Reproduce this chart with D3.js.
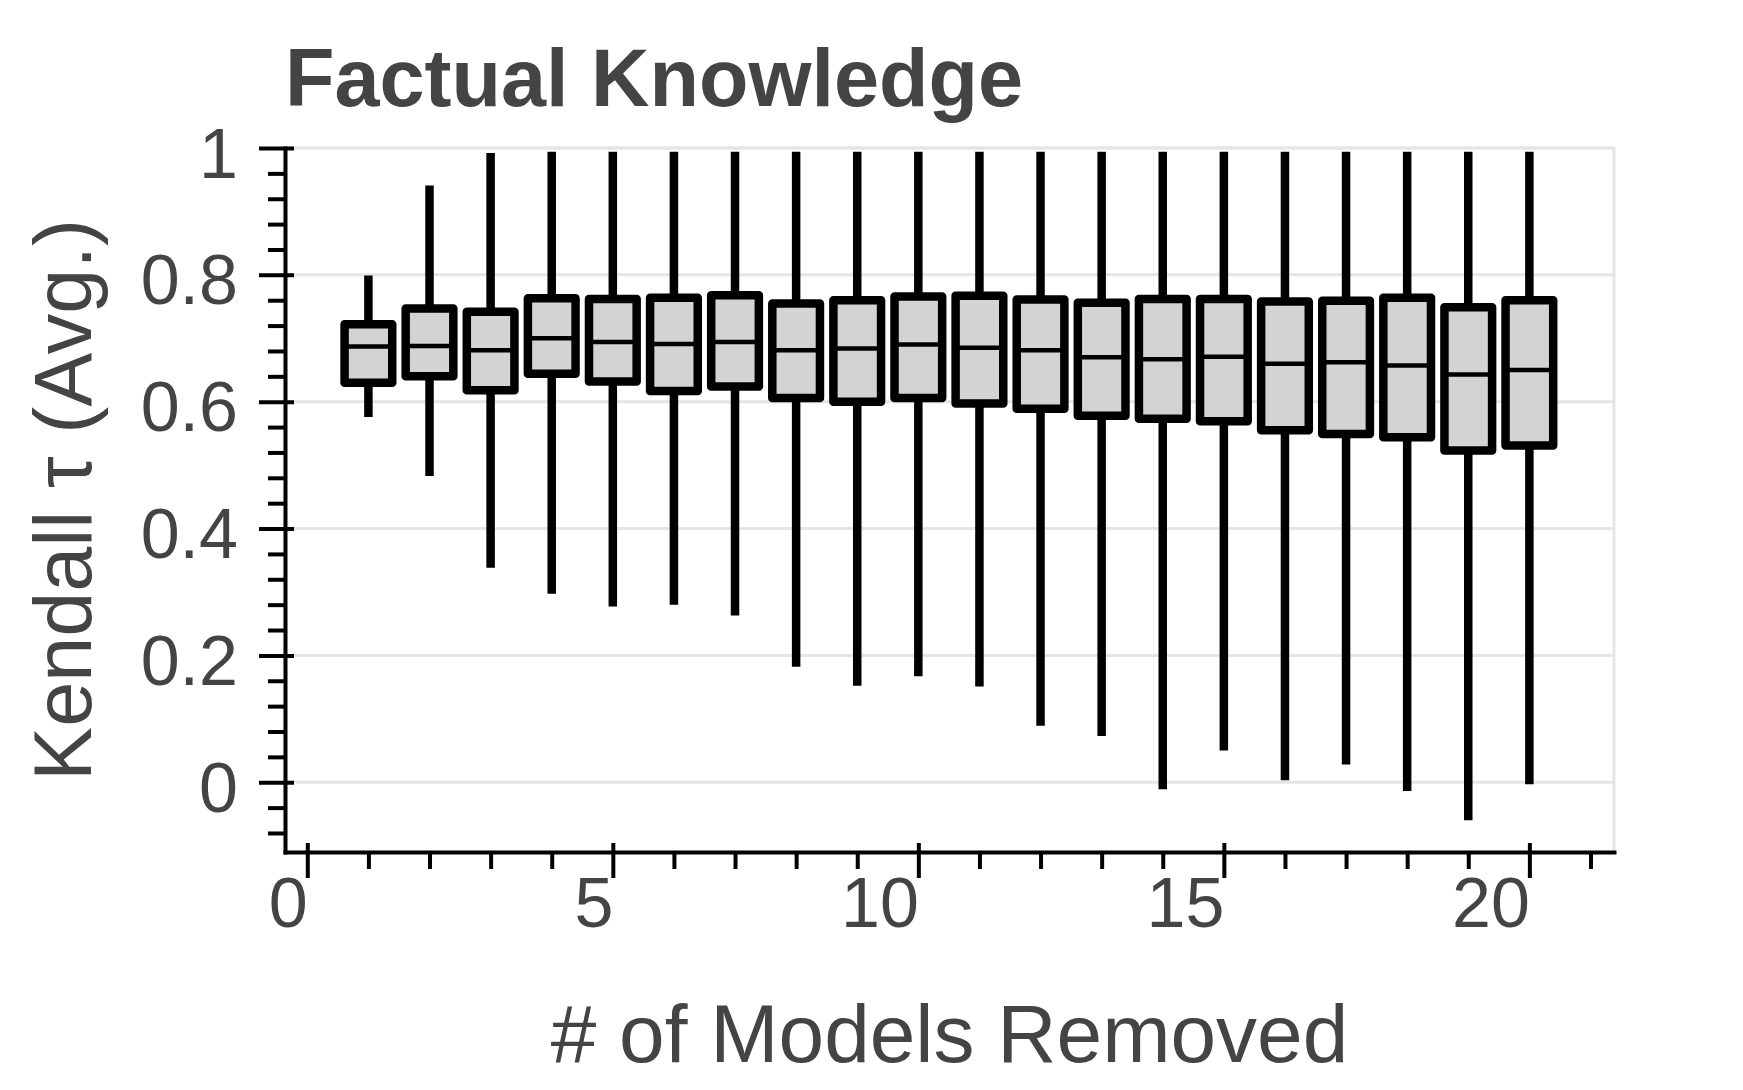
<!DOCTYPE html>
<html>
<head>
<meta charset="utf-8">
<script src="https://cdn.jsdelivr.net/npm/d3@7"></script>
<style>
  html, body { margin: 0; padding: 0; background: #ffffff; }
  svg { display: block; }
  text { font-family: "Liberation Sans", Arial, Helvetica, sans-serif; }
</style>
</head>
<body>
<script>
// ---- Data ----
const modelsRemoved = [1,2,3,4,5,6,7,8,9,10,11,12,13,14,15,16,17,18,19,20];
const whiskerLow  = [0.576,0.483,0.338,0.297,0.277,0.280,0.263,0.182,0.152,0.167,0.151,0.089,0.073,-0.011,0.050,0.003,0.028,-0.014,-0.060,-0.003];
const q1          = [0.630,0.640,0.618,0.644,0.632,0.617,0.624,0.606,0.600,0.606,0.597,0.589,0.578,0.573,0.569,0.555,0.549,0.544,0.523,0.531];
const median      = [0.687,0.688,0.681,0.700,0.694,0.691,0.694,0.681,0.684,0.690,0.685,0.681,0.670,0.667,0.671,0.660,0.662,0.657,0.643,0.650];
const q3          = [0.722,0.747,0.742,0.763,0.762,0.764,0.768,0.755,0.760,0.766,0.767,0.761,0.756,0.762,0.762,0.758,0.759,0.764,0.749,0.760];
const whiskerHigh = [0.799,0.941,0.992,0.994,0.994,0.994,0.994,0.994,0.994,0.994,0.994,0.994,0.994,0.994,0.994,0.994,0.994,0.994,0.994,0.994];

const xMajorTicks = [0,5,10,15,20];
const xMinorTicks = [1,2,3,4,6,7,8,9,11,12,13,14,16,17,18,19,21];
const yMajorTicks = [0,0.2,0.4,0.6,0.8,1];
const yMajorLabels = ["0","0.2","0.4","0.6","0.8","1"];
const yMinorTicks = [-0.08,-0.04,0.04,0.08,0.12,0.16,0.24,0.28,0.32,0.36,0.44,0.48,0.52,0.56,0.64,0.68,0.72,0.76,0.84,0.88,0.92,0.96];

const titleText = "Factual Knowledge";
const xTitle = "# of Models Removed";
const yTitle = "Kendall \u03C4 (Avg.)";

// ---- Layout ----
const W = 1743, H = 1090;
const pLeft = 285, pRight = 1614, pTop = 148, pBottom = 852;
const textColor = "#444444";

const svg = d3.select("body").append("svg").attr("width", W).attr("height", H);

const x = d3.scaleLinear().domain([-0.365, 21.385]).range([pLeft, pRight]);
const y = d3.scaleLinear().domain([-0.110, 1.0]).range([pBottom, pTop]);

// Gridlines
svg.append("g").selectAll("line").data(yMajorTicks).join("line")
  .attr("x1", pLeft).attr("x2", pRight)
  .attr("y1", d => y(d)).attr("y2", d => y(d))
  .attr("stroke", "#E5E5E5").attr("stroke-width", 3);

// Panel border (light gray)
svg.append("rect")
  .attr("x", pLeft).attr("y", pTop)
  .attr("width", pRight - pLeft).attr("height", pBottom - pTop)
  .attr("fill", "none").attr("stroke", "#E5E5E5").attr("stroke-width", 3);

// Boxplots
const boxW = 0.78;
const data = modelsRemoved.map((m, i) => ({
  m, lo: whiskerLow[i], q1: q1[i], med: median[i], q3: q3[i], hi: whiskerHigh[i]
}));

const gBoxes = svg.append("g");
gBoxes.selectAll("line.whisker").data(data).join("line")
  .attr("class", "whisker")
  .attr("x1", d => x(d.m)).attr("x2", d => x(d.m))
  .attr("y1", d => y(d.lo)).attr("y2", d => y(d.hi))
  .attr("stroke", "#000").attr("stroke-width", 8.5);

gBoxes.selectAll("rect.box").data(data).join("rect")
  .attr("class", "box")
  .attr("x", d => x(d.m - boxW / 2))
  .attr("width", d => x(d.m + boxW / 2) - x(d.m - boxW / 2))
  .attr("y", d => y(d.q3))
  .attr("height", d => y(d.q1) - y(d.q3))
  .attr("fill", "#D3D3D3").attr("stroke", "#000")
  .attr("stroke-width", 8.5).attr("stroke-linejoin", "round");

gBoxes.selectAll("line.median").data(data).join("line")
  .attr("class", "median")
  .attr("x1", d => x(d.m - boxW / 2)).attr("x2", d => x(d.m + boxW / 2))
  .attr("y1", d => y(d.med)).attr("y2", d => y(d.med))
  .attr("stroke", "#000").attr("stroke-width", 4.5);

// Y axis: minor ticks
const yMinorAxis = d3.axisLeft(y).tickValues(yMinorTicks).tickSize(17).tickSizeOuter(0).tickFormat("");
const gyMinor = svg.append("g").attr("transform", `translate(${pLeft},0)`).call(yMinorAxis);
gyMinor.select(".domain").remove();
gyMinor.selectAll(".tick line").attr("stroke", "#000").attr("stroke-width", 4);

// Y axis: major ticks + labels
const yMajorAxis = d3.axisLeft(y).tickValues(yMajorTicks).tickSize(26).tickSizeOuter(0)
  .tickPadding(21).tickFormat((d, i) => yMajorLabels[i]);
const gy = svg.append("g").attr("transform", `translate(${pLeft},0)`).call(yMajorAxis);
gy.select(".domain").attr("stroke", "#000").attr("stroke-width", 4).attr("stroke-linecap", "square");
gy.selectAll(".tick line").attr("x1", 9).attr("stroke", "#000").attr("stroke-width", 4);
gy.selectAll(".tick text")
  .attr("dy", 29).attr("font-size", 70).attr("fill", textColor)
  .attr("font-family", "'Liberation Sans', Arial, Helvetica, sans-serif");

// X axis: minor ticks
const xMinorAxis = d3.axisBottom(x).tickValues(xMinorTicks).tickSize(17).tickSizeOuter(0).tickFormat("");
const gxMinor = svg.append("g").attr("transform", `translate(0,${pBottom})`).call(xMinorAxis);
gxMinor.select(".domain").remove();
gxMinor.selectAll(".tick line").attr("stroke", "#000").attr("stroke-width", 4);

// X axis: major ticks + labels
const xMajorAxis = d3.axisBottom(x).tickValues(xMajorTicks).tickSize(26).tickSizeOuter(0)
  .tickFormat(d3.format("d"));
const gx = svg.append("g").attr("transform", `translate(0,${pBottom})`).call(xMajorAxis);
gx.select(".domain").attr("stroke", "#000").attr("stroke-width", 4).attr("stroke-linecap", "square");
gx.selectAll(".tick line").attr("y1", -9).attr("stroke", "#000").attr("stroke-width", 4);
gx.selectAll(".tick text")
  .attr("y", 75).attr("dy", 0).attr("text-anchor", "end")
  .attr("font-size", 70).attr("fill", textColor)
  .attr("font-family", "'Liberation Sans', Arial, Helvetica, sans-serif");

// Titles
svg.append("text")
  .attr("x", pLeft).attr("y", 106)
  .attr("font-size", 81).attr("font-weight", "bold").attr("fill", textColor)
  .text(titleText);

svg.append("text")
  .attr("x", (pLeft + pRight) / 2).attr("y", 1062)
  .attr("text-anchor", "middle")
  .attr("font-size", 82).attr("fill", textColor)
  .text(xTitle);

svg.append("text")
  .attr("transform", `translate(91,${(pTop + pBottom) / 2}) rotate(-90)`)
  .attr("text-anchor", "middle")
  .attr("font-size", 81).attr("fill", textColor)
  .text(yTitle);
</script>
</body>
</html>
